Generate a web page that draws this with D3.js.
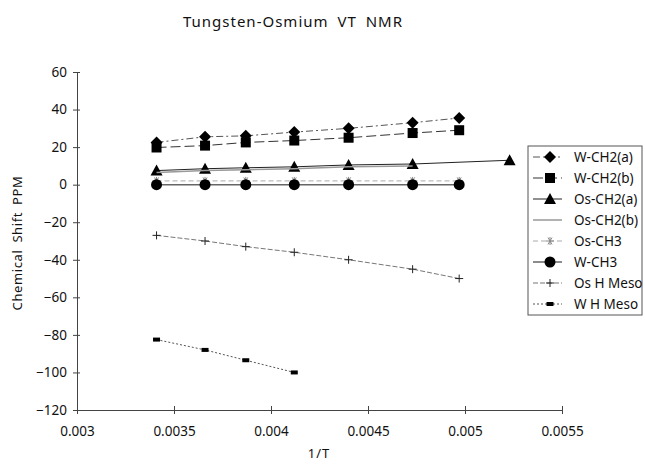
<!DOCTYPE html>
<html>
<head>
<meta charset="utf-8">
<script src="https://cdn.jsdelivr.net/npm/d3@7"></script>
<style>
  body { margin: 0; background: #fff; }
  svg text { font-family: "Noto Sans", "Open Sans", sans-serif; fill: #111; }
</style>
</head>
<body>
<div id="chart"></div>
<script>
// 1/T values (x) and chemical shifts (ppm) per series
var xMain = [0.00341, 0.00366, 0.00387, 0.00412, 0.00440, 0.00473, 0.00497];
var xOsA = [0.00341, 0.00366, 0.00387, 0.00412, 0.00440, 0.00473, 0.00523];
var xOsB = [0.00341, 0.00366, 0.00387, 0.00412, 0.00440, 0.00473];
var xWMeso = [0.00341, 0.00366, 0.00387, 0.00412];

var wCH2a = [22.5, 25.5, 26, 28, 30, 33, 35.5];
var wCH2b = [19.8, 20.8, 22.5, 23.5, 25, 27.5, 29];
var osCH2a = [7.5, 8.5, 9, 9.5, 10.5, 11, 13];
var osCH2b = [6.5, 7.5, 8, 8.5, 9.5, 10];
var osCH3 = [2, 2, 2, 2, 2, 2, 2];
var wCH3 = [0, 0, 0, 0, 0, 0, 0];
var osHMeso = [-27, -30, -33, -36, -40, -45, -50];
var wHMeso = [-82.5, -88, -93.5, -100];

var yTicks = [60, 40, 20, 0, -20, -40, -60, -80, -100, -120];
var xTicks = [0.003, 0.0035, 0.004, 0.0045, 0.005, 0.0055];
var xTickLabels = ["0.003", "0.0035", "0.004", "0.0045", "0.005", "0.0055"];

var series = [
    { name: "W-CH2(a)", xs: xMain, ys: wCH2a, stroke: "#555", dash: "7,3,2,3", width: 1, mark: "diamond" },
    { name: "W-CH2(b)", xs: xMain, ys: wCH2b, stroke: "#333", dash: "10,4", width: 1, mark: "square" },
    { name: "Os-CH2(a)", xs: xOsA, ys: osCH2a, stroke: "#222", dash: null, width: 1, mark: "triangle" },
    { name: "Os-CH2(b)", xs: xOsB, ys: osCH2b, stroke: "#999", dash: null, width: 1.5, mark: "none" },
    { name: "Os-CH3", xs: xMain, ys: osCH3, stroke: "#aaa", dash: "5,3", width: 1, mark: "star" },
    { name: "W-CH3", xs: xMain, ys: wCH3, stroke: "#666", dash: null, width: 1.5, mark: "circle" },
    { name: "Os H Meso", xs: xMain, ys: osHMeso, stroke: "#777", dash: "5,2", width: 1, mark: "plus" },
    { name: "W H Meso", xs: xWMeso, ys: wHMeso, stroke: "#555", dash: "2,2", width: 1, mark: "rect" }
];

var width = 645, height = 464;

var svg = d3.select("#chart").append("svg")
    .attr("width", width)
    .attr("height", height);

var x = d3.scaleLinear().domain([0.003, 0.0055]).range([77, 562]);
var y = d3.scaleLinear().domain([-120, 60]).range([410, 72]);

// title
svg.append("text")
    .attr("x", 293).attr("y", 27)
    .attr("text-anchor", "middle")
    .style("font-size", "15px")
    .style("letter-spacing", "1px")
    .style("word-spacing", "4px")
    .text("Tungsten-Osmium VT NMR");

// axes
var yAxis = svg.append("g")
    .attr("transform", "translate(77,0)")
    .call(d3.axisLeft(y).tickValues(yTicks).tickSize(4).tickPadding(6));
yAxis.selectAll(".tick line").attr("x1", 3).attr("x2", -4);

var xAxis = svg.append("g")
    .attr("transform", "translate(0,410)")
    .call(d3.axisBottom(x).tickValues(xTicks).tickSize(4).tickPadding(12)
        .tickFormat(function (d, i) { return xTickLabels[i]; }));
xAxis.selectAll(".tick line").attr("y1", -4).attr("y2", 4);

svg.selectAll(".domain").attr("stroke", "#444").attr("stroke-width", 1);
svg.selectAll(".tick line").attr("stroke", "#444");
svg.selectAll(".tick text").style("font-size", "13.5px").attr("fill", "#111");

// axis titles
svg.append("text")
    .attr("transform", "translate(22,243) rotate(-90)")
    .attr("text-anchor", "middle")
    .style("font-size", "13px")
    .style("letter-spacing", "0.6px")
    .style("word-spacing", "3px")
    .text("Chemical Shift PPM");

svg.append("text")
    .attr("x", 319).attr("y", 458)
    .attr("text-anchor", "middle")
    .style("font-size", "13px")
    .style("letter-spacing", "1px")
    .text("1/T");

// markers
function drawMark(g, kind, cx, cy) {
    if (kind === "diamond") {
        g.append("path").attr("d", "M" + cx + "," + (cy - 6) + "L" + (cx + 6) + "," + cy + "L" + cx + "," + (cy + 6) + "L" + (cx - 6) + "," + cy + "Z")
            .attr("fill", "#000");
    } else if (kind === "square") {
        g.append("rect").attr("x", cx - 5).attr("y", cy - 5).attr("width", 10).attr("height", 10).attr("fill", "#000");
    } else if (kind === "triangle") {
        g.append("path").attr("d", "M" + cx + "," + (cy - 6) + "L" + (cx + 6) + "," + (cy + 5) + "L" + (cx - 6) + "," + (cy + 5) + "Z")
            .attr("fill", "#000");
    } else if (kind === "circle") {
        g.append("circle").attr("cx", cx).attr("cy", cy).attr("r", 5.5).attr("fill", "#000");
    } else if (kind === "star") {
        var p = "";
        [0, 60, 120].forEach(function (a) {
            var r = a * Math.PI / 180, dx = 4 * Math.cos(r), dy = 4 * Math.sin(r);
            p += "M" + (cx - dx) + "," + (cy - dy) + "L" + (cx + dx) + "," + (cy + dy);
        });
        p += "M" + cx + "," + (cy - 4) + "L" + cx + "," + (cy + 4);
        g.append("path").attr("d", p).attr("stroke", "#888").attr("stroke-width", 1).attr("fill", "none");
    } else if (kind === "plus") {
        g.append("path").attr("d", "M" + (cx - 4) + "," + cy + "L" + (cx + 4) + "," + cy + "M" + cx + "," + (cy - 4) + "L" + cx + "," + (cy + 4))
            .attr("stroke", "#222").attr("stroke-width", 1).attr("fill", "none");
    } else if (kind === "rect") {
        g.append("rect").attr("x", cx - 3.5).attr("y", cy - 2).attr("width", 7).attr("height", 4).attr("fill", "#000");
    }
}

var line = d3.line()
    .x(function (d) { return x(d[0]); })
    .y(function (d) { return y(d[1]); });

series.forEach(function (s) {
    var pts = s.xs.map(function (v, i) { return [v, s.ys[i]]; });
    var g = svg.append("g").attr("class", "series");
    g.append("path")
        .datum(pts)
        .attr("d", line)
        .attr("fill", "none")
        .attr("stroke", s.stroke)
        .attr("stroke-width", s.width)
        .attr("stroke-dasharray", s.dash);
    pts.forEach(function (p) { drawMark(g, s.mark, x(p[0]), y(p[1])); });
});

// legend
var legend = svg.append("g").attr("transform", "translate(528,146)");
legend.append("rect")
    .attr("x", 0).attr("y", 0).attr("width", 114).attr("height", 169)
    .attr("fill", "#fff").attr("stroke", "#555").attr("stroke-width", 1);

series.forEach(function (s, i) {
    var cy = 11 + i * 21;
    var row = legend.append("g");
    row.append("line")
        .attr("x1", 5).attr("x2", 34).attr("y1", cy).attr("y2", cy)
        .attr("stroke", s.stroke)
        .attr("stroke-width", s.width)
        .attr("stroke-dasharray", s.dash);
    drawMark(row, s.mark, 22, cy);
    row.append("text")
        .attr("x", 46).attr("y", cy + 5)
        .style("font-size", "13.5px")
        .text(s.name);
});
</script>
</body>
</html>
